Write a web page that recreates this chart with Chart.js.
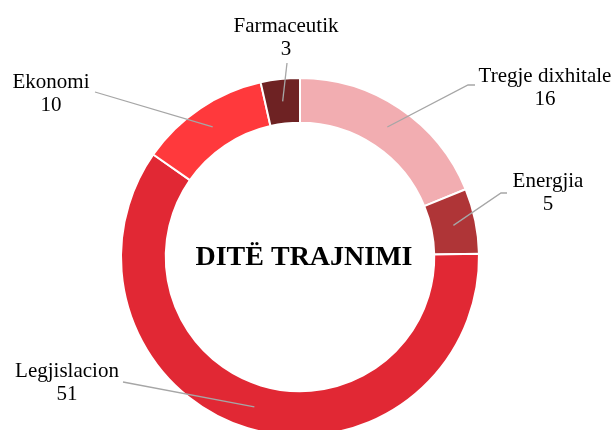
<!DOCTYPE html>
<html>
<head>
<meta charset="utf-8">
<script src="https://cdn.jsdelivr.net/npm/chart.js@4.4.0/dist/chart.umd.min.js"></script>
<style>
  html, body { margin: 0; padding: 0; background: #fff; overflow: hidden; }
  canvas { display: block; }
</style>
</head>
<body>
<canvas id="ring" width="614" height="440"></canvas>
<script>
const categories = ["Tregje dixhitale", "Energjia", "Legjislacion", "Ekonomi", "Farmaceutik"];
const days = [16, 5, 51, 10, 3];
const sliceColors = ["#F2ADB1", "#AF3537", "#E12834", "#FF393C", "#6E2223"];
const centerTitle = "DITË TRAJNIMI";

// where each label sits and where its leader line starts (same order as categories)
const labelSpots = [
    { x: 545, y: 82, line: [[475, 85], [468, 85]] },
    { x: 548, y: 187, line: [[507, 193], [501, 193]] },
    { x: 67, y: 377, line: [[123, 382]] },
    { x: 51, y: 88, line: [[95, 92]] },
    { x: 286, y: 32, line: [[287, 63]] }
];

const calloutPlugin = {
    id: "callouts",
    afterDatasetsDraw(chart) {
        const ctx = chart.ctx;
        const arcs = chart.getDatasetMeta(0).data;
        ctx.save();
        arcs.forEach((arc, i) => {
            const p = arc.getProps(["x", "y", "startAngle", "endAngle", "innerRadius", "outerRadius"], true);
            const mid = (p.startAngle + p.endAngle) / 2;
            const r = (p.innerRadius + p.outerRadius) / 2;
            const ax = p.x + Math.cos(mid) * r;
            const ay = p.y + Math.sin(mid) * r;
            const spot = labelSpots[i];

            ctx.strokeStyle = "#A6A6A6";
            ctx.lineWidth = 1.3;
            ctx.beginPath();
            ctx.moveTo(spot.line[0][0], spot.line[0][1]);
            for (let k = 1; k < spot.line.length; k++) ctx.lineTo(spot.line[k][0], spot.line[k][1]);
            ctx.lineTo(ax, ay);
            ctx.stroke();

            ctx.fillStyle = "#000";
            ctx.font = "21px 'Liberation Serif', 'Times New Roman', serif";
            ctx.textAlign = "center";
            ctx.textBaseline = "alphabetic";
            ctx.fillText(categories[i], spot.x, spot.y);
            ctx.fillText(String(days[i]), spot.x, spot.y + 23);
        });

        const c = arcs[0];
        ctx.font = "bold 28px 'Liberation Serif', 'Times New Roman', serif";
        ctx.textAlign = "center";
        ctx.textBaseline = "alphabetic";
        ctx.fillText(centerTitle, c.x + 4, c.y + 8);
        ctx.restore();
    }
};

new Chart(document.getElementById("ring"), {
    type: "doughnut",
    data: {
        labels: categories,
        datasets: [{
            data: days,
            backgroundColor: sliceColors,
            borderColor: "#ffffff",
            borderWidth: 2
        }]
    },
    options: {
        responsive: false,
        animation: false,
        cutout: "75%",
        layout: { padding: { top: 77, bottom: 3, left: 0, right: 14 } },
        plugins: {
            legend: { display: false },
            tooltip: { enabled: false }
        }
    },
    plugins: [calloutPlugin]
});
</script>
</body>
</html>
